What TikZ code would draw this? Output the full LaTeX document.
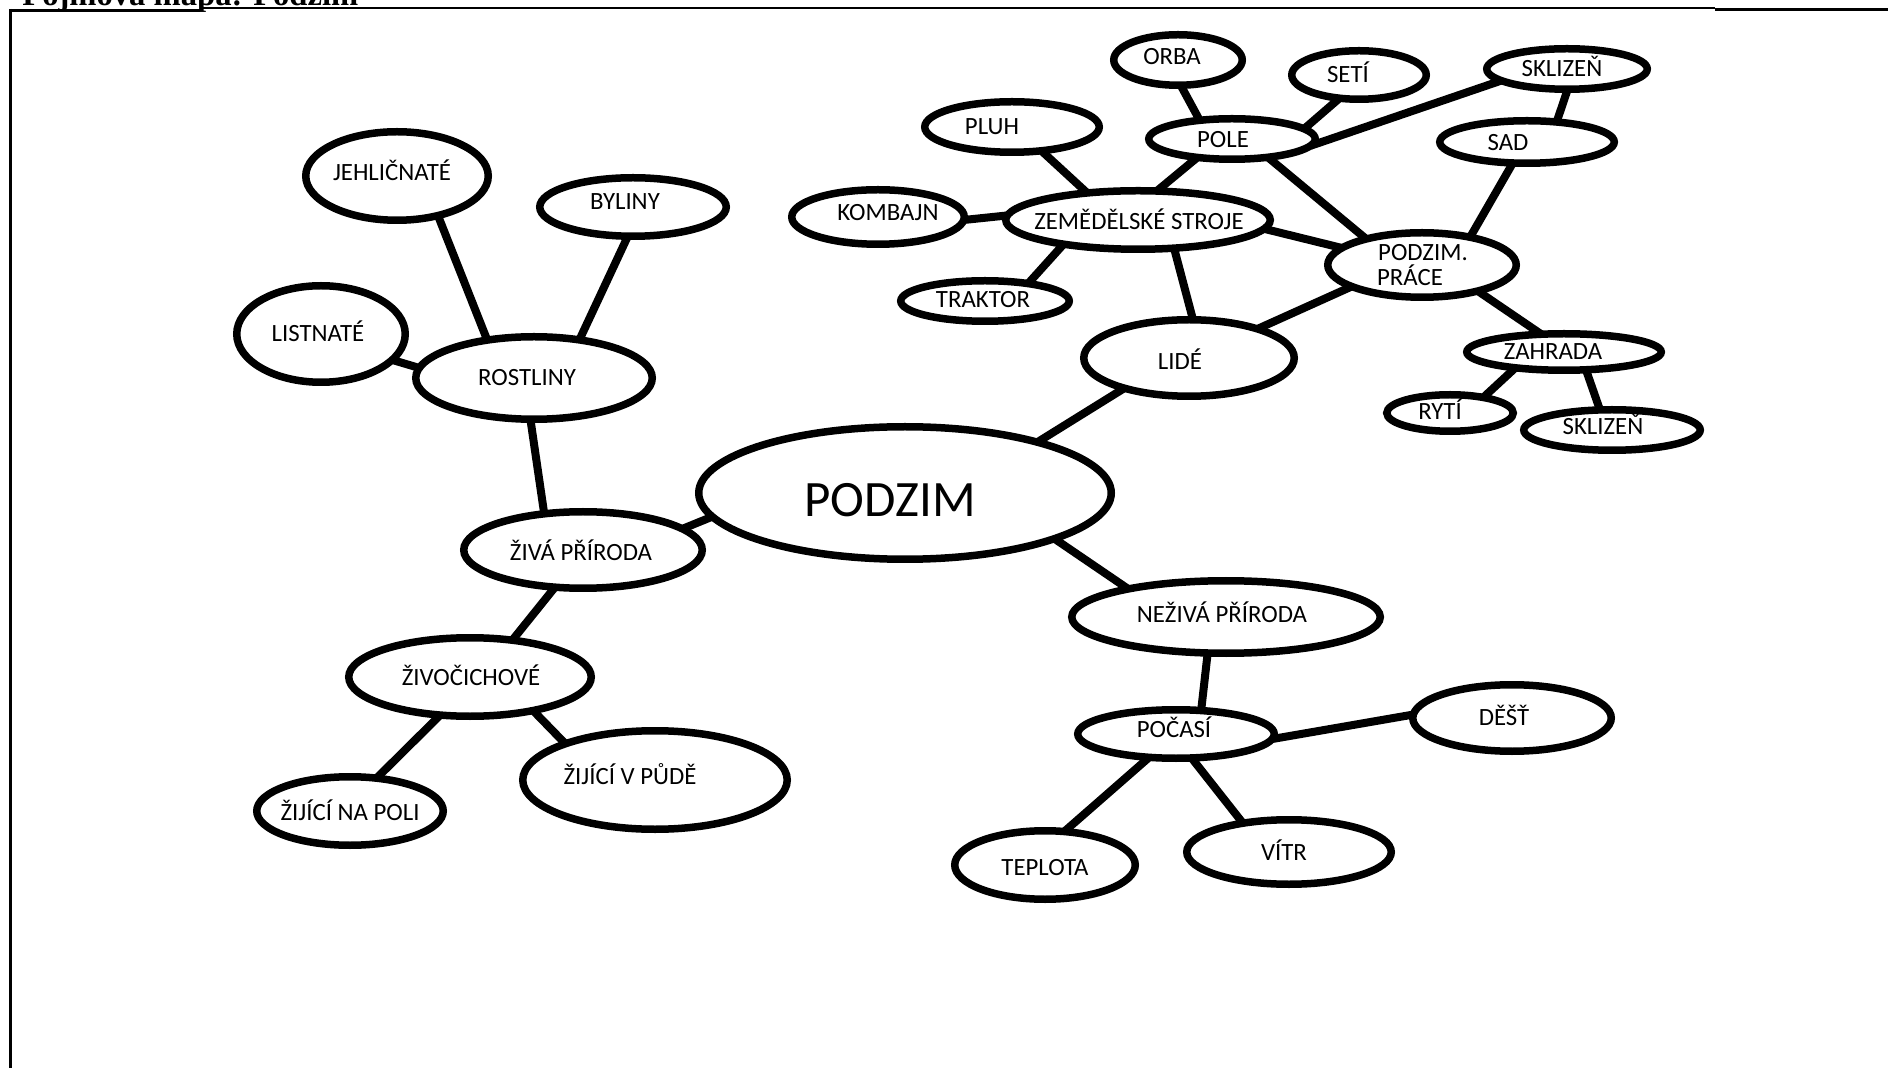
\documentclass[tikz,border=0pt]{standalone}
\usepackage{fontspec}
\setmainfont{Carlito}
\newfontfamily\titlefont{Liberation Serif}
\usetikzlibrary{shapes.geometric}
% label: #1 = x shift (px), #2 = raise (pt), #3 = text
\newcommand\lbl[3]{\smash{\raisebox{\dimexpr #2pt - 0.322em\relax}{\makebox[0pt]{\hspace*{#1pt}#3}}}}
\tikzset{
  bub/.style={ellipse, draw=black, fill=white, line width=3.75pt, inner sep=0pt, outer sep=0pt,
              font=\fontsize{12.4}{14}\selectfont, text=black},
  sz/.style 2 args={minimum width={#1pt-3.75pt}, minimum height={#2pt-3.75pt}},
  link/.style={draw=black, line width=4pt},
  frameline/.style={draw=black},
}
\begin{document}
\begin{tikzpicture}[x=0.5pt,y=-0.5pt]
\useasboundingbox[fill=white] (0,0) rectangle (1888,1068);
% frame
\draw[frameline, line width=1.5pt] (10.5,9) -- (10.5,1075);
\draw[frameline, line width=1.5pt] (9,10.5) -- (200,10.5);
\draw[frameline, line width=1pt] (200,8.5) -- (1715,8.5);
\draw[frameline, line width=1.5pt] (1715,9.5) -- (1895,9.5);
\node[anchor=base west, inner sep=0pt, font=\titlefont\bfseries\fontsize{16.3}{18}\selectfont] (title) at (22,6) {Pojmová mapa: Podzim};

% nodes
\node[bub, sz={210}{70}, font=\fontsize{25.5}{28}\selectfont] (podzim) at (905,493) {\lbl{-15}{-3.5}{PODZIM}};
\node[bub, sz={123}{42}] (ziva) at (583,550) {\lbl{-2}{-1.5}{ŽIVÁ PŘÍRODA}};
\node[bub, sz={122}{45}] (rost) at (534,378) {\lbl{-7}{0}{ROSTLINY}};
\node[bub, sz={88}{52}] (list) at (321,334) {\lbl{-3}{0}{LISTNATÉ}};
\node[bub, sz={95}{48}] (jehl) at (397,176) {\lbl{-5}{1.5}{JEHLIČNATÉ}};
\node[bub, sz={97}{33}] (byl) at (633,207) {\lbl{-8}{2.5}{BYLINY}};
\node[bub, sz={125}{43}] (zivoc) at (470,677) {\lbl{1}{-0.5}{ŽIVOČICHOVÉ}};
\node[bub, sz={97}{38}] (napoli) at (350,811) {\lbl{0}{-1}{ŽIJÍCÍ NA POLI}};
\node[bub, sz={136}{53}] (vpude) at (655,780) {\lbl{-25}{1.5}{ŽIJÍCÍ V PŮDĚ}};
\node[bub, sz={158}{40}] (neziva) at (1226,617) {\lbl{-4}{1}{NEŽIVÁ PŘÍRODA}};
\node[bub, sz={102}{28}] (pocasi) at (1176,734) {\lbl{-2}{2}{POČASÍ}};
\node[bub, sz={103}{37}] (dest) at (1512,718) {\lbl{-8}{0}{DĚŠŤ}};
\node[bub, sz={94}{38}] (teplota) at (1045,865) {\lbl{0}{-1.5}{TEPLOTA}};
\node[bub, sz={106}{36}] (vitr) at (1289,852) {\lbl{-5}{-0.5}{VÍTR}};
\node[bub, sz={109}{42}] (lide) at (1189,358) {\lbl{-9}{-2}{LIDÉ}};
\node[bub, sz={91}{29}] (pluh) at (1012,127) {\lbl{-20}{0}{PLUH}};
\node[bub, sz={68}{29}] (orba) at (1178,60) {\lbl{-6}{1.5}{ORBA}};
\node[bub, sz={71}{28}] (seti) at (1359,75) {\lbl{-11}{0}{SETÍ}};
\node[bub, sz={87}{24}] (pole) at (1232,139) {\lbl{-9}{-0.5}{POLE}};
\node[bub, sz={90}{31}] (kombajn) at (878,217) {\lbl{10}{2}{KOMBAJN}};
\node[bub, sz={136}{33}] (zem) at (1138,220) {\lbl{1}{-1}{ZEMĚDĚLSKÉ STROJE}};
\node[bub, sz={88}{24}] (traktor) at (985,301) {\lbl{-2}{0.5}{TRAKTOR}};
\node[bub, sz={84}{24}] (skla) at (1567,69) {\lbl{-5}{0}{SKLIZEŇ}};
\node[bub, sz={91}{25}] (sad) at (1527,142) {\lbl{-19}{-0.5}{SAD}};
\node[bub, sz={98}{36}] (prace) at (1422,265) {\lbl{1}{6}{PODZIM.}\lbl{-12}{-6.5}{PRÁCE}};
\node[bub, sz={101}{22}] (zahrada) at (1564,352) {\lbl{-11}{0}{ZAHRADA}};
\node[bub, sz={67}{22}] (ryti) at (1450,413) {\lbl{-10}{0.5}{RYTÍ}};
\node[bub, sz={92}{24}] (sklb) at (1612,430) {\lbl{-9}{1.5}{SKLIZEŇ}};

% connectors
\draw[link] (ziva.12) -- (podzim.187);
\draw[link] (ziva.137) -- (rost.265);
\draw[link] (rost.175) -- (list.-20);
\draw[link] (rost.141) -- (jehl.-44);
\draw[link] (rost.40) -- (byl.260);
\draw[link] (ziva.233) -- (zivoc.41);
\draw[link] (zivoc.232) -- (napoli.51);
\draw[link] (zivoc.-28) -- (vpude.158);
\draw[link] (podzim.21) -- (lide.205);
\draw[link] (podzim.-17) -- (neziva.164);
\draw[link] (neziva.243) -- (pocasi.43);
\draw[link] (pocasi.-3) -- (dest.178);
\draw[link] (pocasi.221) -- (teplota.60);
\draw[link] (pocasi.303) -- (vitr.148);
\draw[link] (lide.84) -- (zem.-38);
\draw[link] (lide.23) -- (prace.197);
\draw[link] (zem.152) -- (pluh.-39);
\draw[link] (zem.57) -- (pole.208);
\draw[link] (zem.178) -- (kombajn.-2);
\draw[link] (zem.198) -- (traktor.22);
\draw[link] (zem.-4) -- (prace.168);
\draw[link] (pole.-27) -- (prace.155);
\draw[link] (pole.150) -- (orba.276);
\draw[link] (pole.8) -- (seti.230);
\draw[link] (pole.-5) -- (skla.190);
\draw[link] (skla.272) -- (sad.34);
\draw[link] (sad.236) -- (prace.30);
\draw[link] (prace.-25) -- (zahrada.142);
\draw[link] (zahrada.198) -- (ryti.25);
\draw[link] (zahrada.-39) -- (sklb.121);
\end{tikzpicture}
\end{document}
